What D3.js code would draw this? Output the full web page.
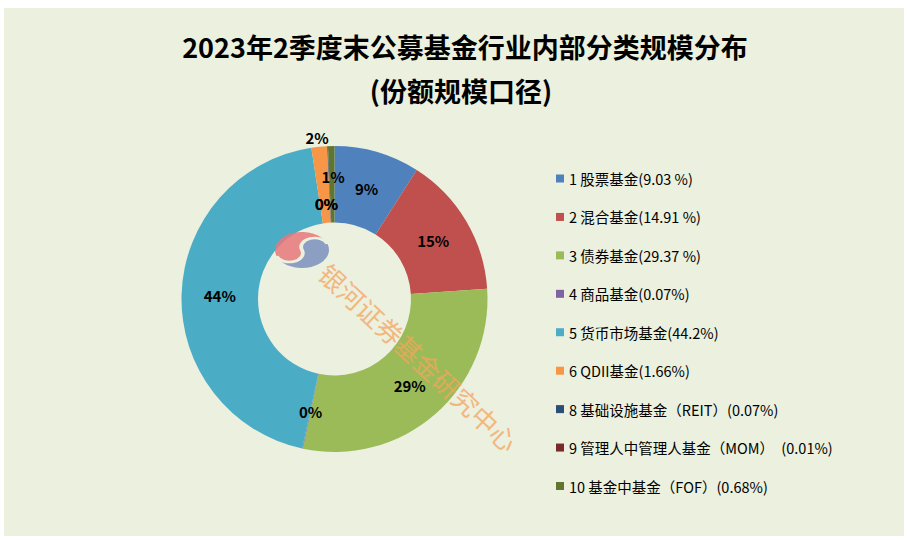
<!DOCTYPE html>
<html><head><meta charset="utf-8">
<script src="https://cdn.jsdelivr.net/npm/d3@7"></script>
<style>
html,body{margin:0;padding:0;background:#fff;}
svg{display:block;}
</style></head>
<body>
<svg id="chart" width="907" height="541"></svg>
<script>
// ---- data ----
const categories = ["1 股票基金","2 混合基金","3 债券基金","4 商品基金","5 货币市场基金","6 QDII基金","8 基础设施基金（REIT）","9 管理人中管理人基金（MOM）","10 基金中基金（FOF）"];
const values = [9.03, 14.91, 29.37, 0.07, 44.2, 1.66, 0.07, 0.01, 0.68];
const legendLabels = ["1 股票基金(9.03 %)","2 混合基金(14.91 %)","3 债券基金(29.37 %)","4 商品基金(0.07%)","5 货币市场基金(44.2%)","6 QDII基金(1.66%)","8 基础设施基金（REIT）(0.07%)","9 管理人中管理人基金（MOM）　(0.01%)","10 基金中基金（FOF）(0.68%)"];
const colors = ["#4F81BD","#C0504D","#9BBB59","#8064A2","#4BACC6","#F79646","#2C4D75","#772C2A","#5F7530"];
// label nudges for crowded small slices (layout only)
const labelNudge = [[0,0],[0,0],[0,0],[0,0],[0,0],[-6,-47],[-3,19],[-3,19],[1,-8]];

const svg = d3.select("#chart");
const W = 907, H = 541;
// background
svg.append("rect").attr("x",0).attr("y",0).attr("width",W).attr("height",H).attr("fill","#ffffff");
svg.append("rect").attr("x",4).attr("y",8).attr("width",900).attr("height",528).attr("fill","#EBF0DF");

// title
const font = "'Noto Sans CJK SC','Noto Sans',sans-serif";
svg.append("text").attr("x",465).attr("y",46).attr("text-anchor","middle").attr("dominant-baseline","central")
  .attr("font-family",font).attr("font-weight",700).attr("font-size",27).attr("fill","#000")
  .text("2023年2季度末公募基金行业内部分类规模分布");
svg.append("text").attr("x",461).attr("y",90).attr("text-anchor","middle").attr("dominant-baseline","central")
  .attr("font-family",font).attr("font-weight",700).attr("font-size",27).attr("fill","#000")
  .text("(份额规模口径)");

// donut
const cx = 334.5, cy = 299, rOuter = 153, rInner = 76.5;
const pie = d3.pie().sort(null).value(d => d)(values);
const arc = d3.arc().innerRadius(rInner).outerRadius(rOuter);
const g = svg.append("g").attr("transform",`translate(${cx},${cy})`);
g.selectAll("path.slice").data(pie).enter().append("path").attr("class","slice")
  .attr("d",arc).attr("fill",(d,i)=>colors[i]);

// watermark logo
const logo = svg.append("g").attr("transform","translate(302,250) scale(27,18) rotate(70)").attr("opacity",0.85);
logo.append("path").attr("d","M0,-1 A1,1 0 0 0 0,1 A0.5,0.5 0 0 0 0,0 A0.5,0.5 0 0 1 0,-1 Z").attr("fill","#E8787C");
logo.append("path").attr("d","M0,-1 A1,1 0 0 1 0,1 A0.5,0.5 0 0 0 0,0 A0.5,0.5 0 0 1 0,-1 Z").attr("fill","#7D90BF");
logo.append("path").attr("d","M0,1 A0.5,0.5 0 0 0 0,0 A0.5,0.5 0 0 1 0,-1").attr("fill","none").attr("stroke","#EBF0DF").attr("stroke-width",0.14);

// watermark text
svg.append("text").attr("transform","translate(419,357) rotate(43)")
  .attr("text-anchor","middle").attr("dominant-baseline","central")
  .attr("font-family",font).attr("font-size",26).attr("fill","#F5A55C").attr("opacity",0.75)
  .text("银河证券基金研究中心");

// data labels
const mid = d3.arc().innerRadius((rInner+rOuter)/2).outerRadius((rInner+rOuter)/2);
g.selectAll("text.lbl").data(pie).enter().append("text").attr("class","lbl")
  .attr("x",(d,i)=>mid.centroid(d)[0]+labelNudge[i][0])
  .attr("y",(d,i)=>mid.centroid(d)[1]+labelNudge[i][1])
  .attr("text-anchor","middle").attr("dominant-baseline","central")
  .attr("font-family",font).attr("font-weight",700).attr("font-size",15).attr("fill","#000")
  .text(d => d3.format(".0f")(d.data) + "%");

// legend
const legendY = d3.scaleLinear().domain([0, categories.length-1]).range([178.5, 486]);
const lg = svg.append("g");
const items = lg.selectAll("g").data(legendLabels).enter().append("g")
  .attr("transform",(d,i)=>`translate(556,${legendY(i)})`);
items.append("rect").attr("x",0).attr("y",-4).attr("width",8).attr("height",8).attr("fill",(d,i)=>colors[i]);
items.append("text").attr("x",13).attr("y",0).attr("dominant-baseline","central")
  .attr("font-family",font).attr("font-size",14.5).attr("fill","#000").text(d=>d);
</script>
</body></html>
